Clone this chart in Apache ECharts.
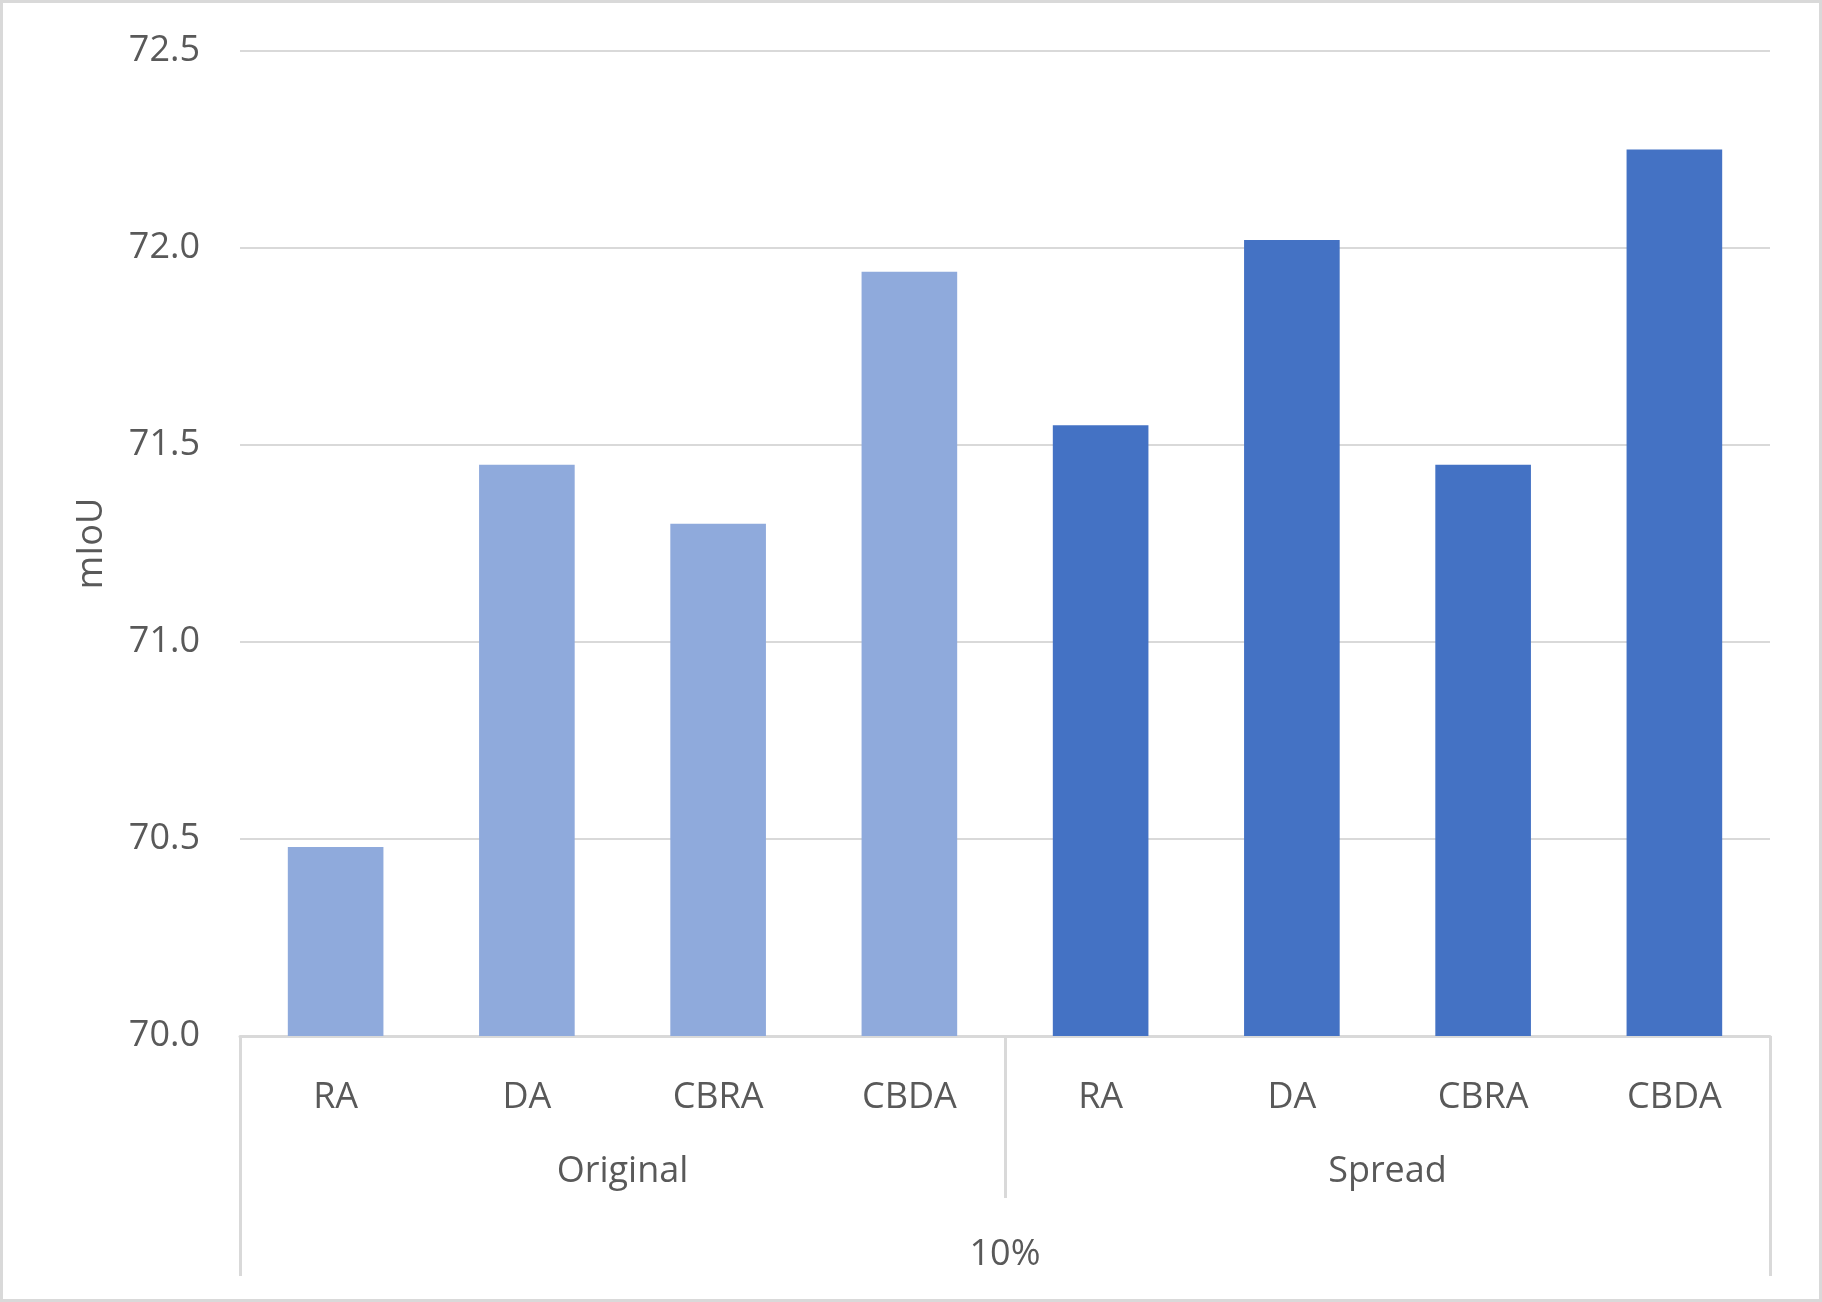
<!DOCTYPE html>
<html>
<head>
<meta charset="utf-8">
<title>mIoU</title>
<script src="https://cdn.jsdelivr.net/npm/echarts@6/dist/echarts.min.js"></script>
<style>
  html, body { margin: 0; padding: 0; background: #fff; }
  #main { width: 1822px; height: 1302px; }
</style>
</head>
<body>
<div id="main"></div>
<script>
// 数据
var methods = ['RA', 'DA', 'CBRA', 'CBDA', 'RA', 'DA', 'CBRA', 'CBDA'];
var groups = ['Original', 'Spread'];
var ratio = ['10%'];
var originalValues = [70.48, 71.45, 71.30, 71.94, '-', '-', '-', '-'];
var spreadValues = ['-', '-', '-', '-', 71.55, 72.02, 71.45, 72.25];

(function draw() {
    var myChart = echarts.init(document.getElementById('main'));

    var textColor = '#595959';
    var lineColor = '#D9D9D9';
    var font = 'Open Sans';
    var fontSize = 36;

    var option = {
        backgroundColor: '#fff',
        animation: false,
        grid: {
            left: 240,
            right: 52,
            top: 51,
            bottom: 266,
            containLabel: false,
            outerBoundsMode: 'none'
        },
        // 外边框
        graphic: [{
            type: 'rect',
            shape: { x: 1.5, y: 1.5, width: 1819, height: 1299 },
            style: { fill: 'none', stroke: lineColor, lineWidth: 3 },
            silent: true
        }],
        xAxis: [
            {
                type: 'category',
                position: 'bottom',
                data: methods,
                axisLine: { show: true, onZero: false, lineStyle: { color: lineColor, width: 3 } },
                axisTick: { show: false },
                axisLabel: { interval: 0, margin: 44, color: textColor, fontSize: fontSize, fontFamily: font }
            },
            {
                type: 'category',
                position: 'bottom',
                data: groups,
                axisLine: { show: false, onZero: false },
                axisTick: { show: true, length: 162, lineStyle: { color: lineColor, width: 3 } },
                axisLabel: { interval: 0, margin: 118, color: textColor, fontSize: fontSize, fontFamily: font }
            },
            {
                type: 'category',
                position: 'bottom',
                data: ratio,
                axisLine: { show: false, onZero: false },
                axisTick: { show: true, length: 240, lineStyle: { color: lineColor, width: 3 } },
                axisLabel: { interval: 0, margin: 201, color: textColor, fontSize: fontSize, fontFamily: font }
            }
        ],
        yAxis: {
            type: 'value',
            min: 70,
            max: 72.5,
            interval: 0.5,
            name: 'mIoU',
            nameLocation: 'middle',
            nameGap: 130,
            nameTextStyle: { color: textColor, fontSize: fontSize, fontFamily: font },
            axisLine: { show: false },
            axisTick: { show: false },
            splitLine: { lineStyle: { color: lineColor, width: 2 } },
            axisLabel: {
                margin: 40,
                color: textColor,
                fontSize: fontSize,
                fontFamily: font,
                formatter: function (v) { return v.toFixed(1); }
            }
        },
        series: [
            {
                name: 'Original',
                type: 'bar',
                xAxisIndex: 0,
                barWidth: '50%',
                barGap: '-100%',
                itemStyle: { color: '#8FAADC' },
                data: originalValues
            },
            {
                name: 'Spread',
                type: 'bar',
                xAxisIndex: 0,
                barWidth: '50%',
                barGap: '-100%',
                itemStyle: { color: '#4472C4' },
                data: spreadValues
            }
        ]
    };
    myChart.setOption(option);
})();
</script>
</body>
</html>
